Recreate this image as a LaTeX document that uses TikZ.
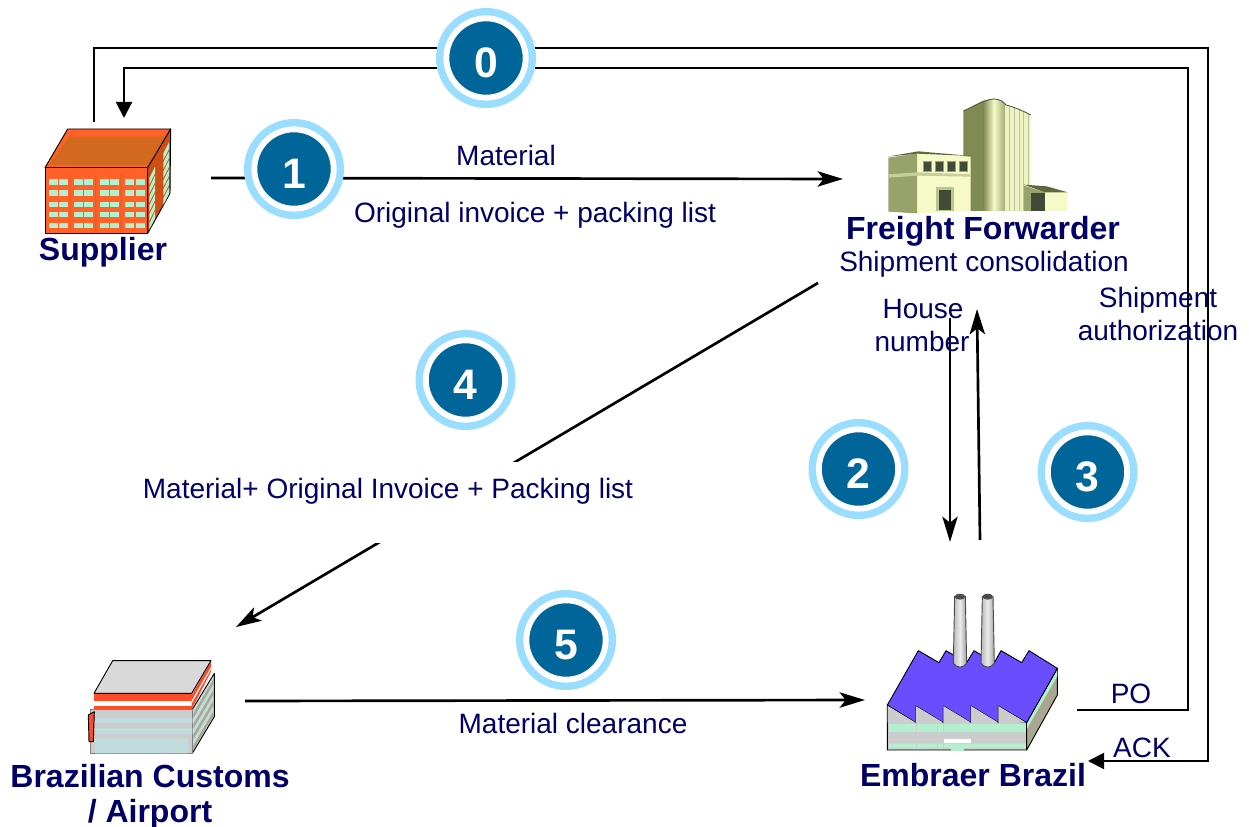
\documentclass[tikz,border=0pt]{standalone}
\usepackage{fontspec}
\setmainfont{Liberation Sans}
\usetikzlibrary{arrows.meta}
\definecolor{navy}{HTML}{000066}
\definecolor{ringblue}{HTML}{99DDFF}
\definecolor{discblue}{HTML}{006699}
\definecolor{mint}{HTML}{B4F0D0}
\definecolor{brick}{HTML}{FF6126}
\definecolor{brickroof}{HTML}{D2691E}
\definecolor{brickside}{HTML}{D04E14}
\definecolor{olive}{HTML}{97A36A}
\definecolor{olivedark}{HTML}{7F8B52}
\definecolor{cream}{HTML}{F5FAC8}
\definecolor{darkwin}{HTML}{3F4A38}
\definecolor{roofblue}{HTML}{6A4DFF}
\definecolor{wallgrey}{HTML}{CCCCCC}
\definecolor{sidegrey}{HTML}{A8A890}
\definecolor{custred}{HTML}{FF4B28}
\definecolor{custblue}{HTML}{C0DCDC}
\tikzset{
 conn/.style={line width=1.5pt,draw=black},
 looptip/.style={-{Triangle[length=12pt,width=12pt]}},
 flow/.style={line width=2pt,draw=black,-{Stealth[length=19pt,width=11.5pt,inset=4.5pt]}},
 lbl/.style={text=navy,font=\fontsize{21}{24}\selectfont,anchor=base,inner sep=0pt},
 title/.style={text=navy,font=\fontsize{24}{28}\bfseries\selectfont,anchor=base,inner sep=0pt},
 ringdisc/.style={circle,fill=ringblue,minimum size=75pt,inner sep=0pt},
 stepdisc/.style={circle,fill=discblue,draw=white,line width=4.4pt,minimum size=59.5pt,inner sep=0pt},
 stepnum/.style={text=white,inner sep=0pt,font=\fontsize{32}{34}\bfseries\selectfont},
 edge/.style={draw=black,line width=0.7pt,line join=round},
}
\begin{document}
\begin{tikzpicture}[x=0.75pt,y=-0.75pt]
\useasboundingbox (0,0) rectangle (1249,827);
\fill[white] (0,0) rectangle (1249,827);

% connector end points
\coordinate (supOut) at (94,122);
\coordinate (supIn) at (124,118);
\coordinate (a1) at (94,48);
\coordinate (a2) at (1208,48);
\coordinate (a3) at (1208,761);
\coordinate (embIn) at (1088,761);
\coordinate (embOut) at (1077,710);
\coordinate (b1) at (1188,710);
\coordinate (b2) at (1188,68);
\coordinate (b3) at (124,68);
\coordinate (supR) at (211,178);
\coordinate (ffL) at (843,179);
\coordinate (ffS) at (818,283);
\coordinate (cusN) at (236,627);
\coordinate (twoA) at (950,318);
\coordinate (twoB) at (950,542);
\coordinate (threeA) at (980,540);
\coordinate (threeB) at (977,309);
\coordinate (cusR) at (245,701);
\coordinate (embL) at (865,700);

% connectors
\draw[conn,looptip] (embOut) -- (b1) -- (b2) -- (b3) -- (supIn);
\draw[conn,looptip] (supOut) -- (a1) -- (a2) -- (a3) -- (embIn);
\draw[flow] (supR) -- (ffL);
\draw[flow] (ffS) -- (cusN);
\draw[flow,line width=1.6pt] (twoA) -- (twoB);
\draw[flow] (threeA) -- (threeB);
\draw[flow] (cusR) -- (embL);

% white panel that interrupts connector 4
\node[fill=white,inner sep=0pt,minimum width=390pt,minimum height=60.75pt] (panel) at (388,502.5) {};

% step markers
\foreach \n/\px/\py/\ty in {0/486/58/63,1/294/169/174,2/858.5/469/474,3/1087.5/472/477,4/465.5/380/384.5,5/566/640/645}{
  \node[ringdisc] (ring\n) at (\px,\py) {};
  \node[stepdisc] (step\n) at (\px,\py) {};
  \node[stepnum] (num\n) at (\px,\ty) {\n};
}

% Supplier building
\begin{scope}[shift={(20,110)},x=0.25pt,y=-0.25pt]
 \filldraw[edge,fill=brick] (143,57) -- (452,57) -- (383,173) -- (75,173) -- cycle;
 \fill[brickroof] (148,80) -- (445,80) -- (388,165) -- (88,165) -- cycle;
 \filldraw[edge,fill=brickside] (383,173) -- (452,57) -- (450,250) -- (383,370) -- cycle;
 \filldraw[edge,fill=brick] (75,173) rectangle (383,370);
 \fill[brick!80!black,opacity=.35] (148,195) rectangle (152,370) (225,195) rectangle (229,370) (301,195) rectangle (305,370);
 \foreach \wy in {207,240,275,305,338}{
  \foreach \wx in {87,117,162,192,240,270,315,348}{
   \fill[mint] (\wx,\wy) rectangle ++(28,17);
  }
 }
 \foreach \k in {0,1,2,3,4,5}{
  \fill[mint] (388,{205+\k*27}) -- (405,{170+\k*27}) -- (405,{190+\k*27}) -- (388,{224+\k*27}) -- cycle;
  \fill[mint] (430,{130+\k*27}) -- (447,{97+\k*27}) -- (447,{117+\k*27}) -- (430,{150+\k*27}) -- cycle;
 }
\end{scope}

% Freight forwarder building
\begin{scope}[shift={(870,85)},x=0.25pt,y=-0.25pt]
 \fill[olivedark] (280,78) .. controls (310,65) and (335,48) .. (340,47) -- (340,378) -- (280,378) -- cycle;
 \shade[left color=olivedark,right color=cream] (340,47) .. controls (350,44) and (360,42) .. (372,42) -- (372,378) -- (340,378) -- cycle;
 \shade[left color=cream,right color=olive] (372,42) .. controls (390,42) and (400,50) .. (408,60) -- (408,378) -- (372,378) -- cycle;
 \fill[cream!92!olive] (405,60) .. controls (430,65) and (460,78) .. (482,90) -- (482,378) -- (405,378) -- cycle;
 \foreach \sx in {418,432,446,460,474}{ \fill[olive!65] (\sx,{60+(\sx-405)*0.38}) rectangle ++(3,{318-(\sx-405)*0.38}); }
 \draw[olivedark!70!black,line width=0.7pt] (280,78) .. controls (310,65) and (340,45) .. (370,42) .. controls (390,42) and (400,50) .. (408,60) .. controls (430,65) and (460,78) .. (482,90);
 % left block
 \fill[olive] (55,218) -- (142,205) -- (142,385) -- (55,380) -- cycle;
 \fill[cream] (142,205) -- (302,215) -- (302,378) -- (142,385) -- cycle;
 \fill[olivedark!75!black] (52,215) -- (145,199) -- (305,213) -- (142,206) -- cycle;
 \fill[olive!50!cream] (55,268) -- (142,262) -- (302,268) -- (302,275) -- (142,272) -- (55,278) -- cycle;
 \foreach \wx in {160,196,232,266}{
  \fill[olive] (\wx,227) rectangle ++(27,34);
  \fill[darkwin] (\wx+3,231) rectangle ++(21,26);
 }
 \fill[olive!60!cream] (198,306) rectangle (252,378);
 \fill[darkwin] (206,314) rectangle (243,376);
 % annexe
 \fill[olive] (462,302) -- (525,322) -- (525,378) -- (462,378) -- cycle;
 \fill[cream] (525,322) -- (592,322) -- (592,378) -- (525,378) -- cycle;
 \fill[olivedark!75!black] (462,299) -- (530,304) -- (593,322) -- (525,322) -- cycle;
 \fill[darkwin] (482,325) rectangle (525,378);
\end{scope}

% Embraer factory
\begin{scope}[shift={(870,580)},x=0.25pt,y=-0.25pt]
 \filldraw[edge,fill=wallgrey] (52,375) -- (470,428) -- (470,510) -- (52,510) -- cycle;
 \fill[mint] (57,432) rectangle (468,456) (57,491) rectangle (468,505);
 \fill[white] (222,477) rectangle (303,490);
 \fill[mint] (243,505) rectangle (282,513);
 \draw[wallgrey,line width=0.6pt] (139,432) -- (139,505) (202,432) -- (202,505) (220,432) -- (220,505);
 \filldraw[edge,fill=sidegrey] (470,428) -- (562,265) -- (562,345) -- (470,510) -- cycle;
 \fill[mint] (471,428) -- (562,270) -- (562,288) -- (471,446) -- cycle;
 \filldraw[edge,fill=roofblue] (52,375) -- (145,212) -- (207,248) -- (228,212) -- (290,248) -- (312,212) -- (373,248) -- (393,212) -- (455,248) -- (477,212) -- (562,265) -- (470,428) -- (385,378) -- (385,428) -- (303,378) -- (303,428) -- (220,378) -- (220,428) -- (137,378) -- (137,428) -- cycle;
 \fill[wallgrey] (53,378) -- (137,428) -- (53,428) -- cycle (137,378) -- (220,428) -- (137,428) -- cycle (220,378) -- (303,428) -- (220,428) -- cycle (303,378) -- (385,428) -- (303,428) -- cycle (385,378) -- (468,428) -- (385,428) -- cycle;
 \foreach \cx in {270,353}{
  \shade[left color=gray!55,right color=gray!75,middle color=gray!15,draw=gray!60!black,line width=0.7pt]
    (\cx-16,50) -- (\cx-20,250) .. controls (\cx-10,265) and (\cx+10,265) .. (\cx+20,250) -- (\cx+16,50) -- cycle;
  \fill[black!70] (\cx,50) ellipse (16 and 9);
 }
\end{scope}

% Customs building
\begin{scope}[shift={(75,650)},x=0.25pt,y=-0.25pt]
 \filldraw[edge,fill=custblue] (352,178) -- (418,70) -- (418,200) -- (352,310) -- cycle;
 \foreach \k in {0,1,2,3}{ \fill[sidegrey] (355,{190+\k*32}) -- (415,{88+\k*32}) -- (415,{102+\k*32}) -- (355,{204+\k*32}) -- cycle; }
 \filldraw[draw=gray,line width=0.7pt,fill=wallgrey] (45,178) rectangle (352,310);
 \fill[custblue] (60,203) rectangle (352,220) (60,235) rectangle (352,252) (60,265) rectangle (340,310);
 \filldraw[edge,fill=custred] (40,195) -- (58,185) -- (55,275) -- (42,275) -- cycle;
 \fill[custred] (57,132) rectangle (350,178);
 \fill[white] (57,153) rectangle (350,167);
 \fill[custred] (350,178) -- (408,65) -- (408,35) -- (350,135) -- cycle;
 \fill[white] (350,160) -- (408,58) -- (408,52) -- (350,152) -- cycle;
 \filldraw[edge,fill=black!15] (57,130) -- (113,32) -- (408,32) -- (350,130) -- cycle;
\end{scope}

% labels
\node[title] (supplier) at (103,261) {Supplier};
\node[lbl] (material) at (506,166) {Material};
\node[lbl] (invoice) at (535,223) {Original invoice + packing list};
\node[title] (forwarder) at (983,240) {Freight Forwarder};
\node[lbl] (consol) at (984,272) {Shipment consolidation};
\node[lbl] (house) at (923,318) {House};
\node[lbl] (number) at (922,351) {number};
\node[lbl] (shipment) at (1158,307) {Shipment};
\node[lbl] (authoriz) at (1158,340) {authorization};
\node[lbl] (matinv) at (388,498) {Material+ Original Invoice + Packing list};
\node[lbl] (clearance) at (573,733) {Material clearance};
\node[lbl] (po) at (1131,703) {PO};
\node[lbl] (ack) at (1142,757) {ACK};
\node[title] (embraer) at (973,786) {Embraer Brazil};
\node[title] (customs) at (150,787) {Brazilian Customs};
\node[title] (airport) at (150,822) {/ Airport};
\end{tikzpicture}
\end{document}
